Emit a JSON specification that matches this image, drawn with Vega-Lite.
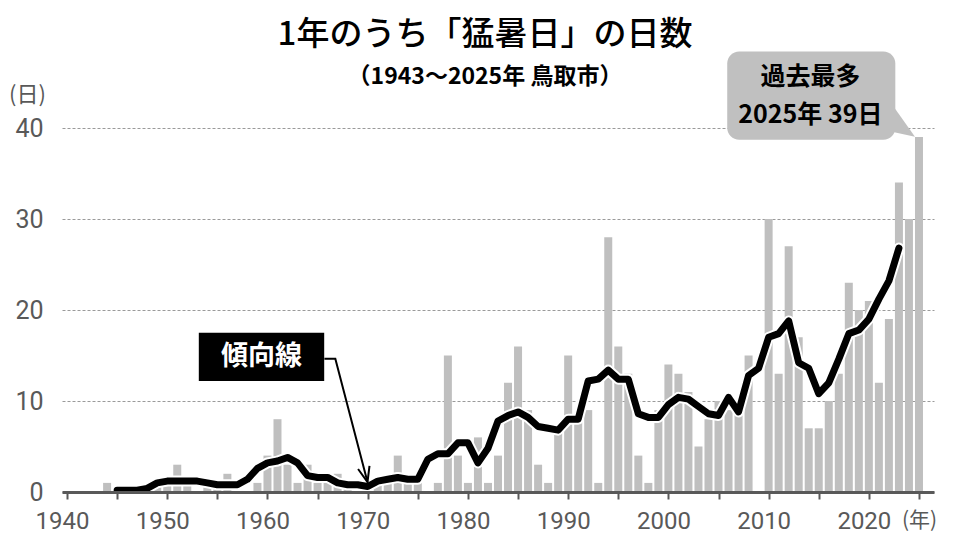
{
  "$schema": "https://vega.github.io/schema/vega-lite/v6.json",
  "autosize": {"type": "none"},
  "width": 872,
  "height": 364,
  "padding": {"left": 62, "top": 128, "right": 39, "bottom": 55},
  "background": "#ffffff",
  "config": {"view": {"stroke": null}, "font": "Noto Sans CJK JP"},
  "title": {
    "text": "1年のうち「猛暑日」の日数",
    "subtitle": "（1943～2025年 鳥取市）",
    "font": "Noto Sans CJK JP",
    "fontSize": 33,
    "fontWeight": 500,
    "color": "#000000",
    "subtitleFont": "Noto Sans CJK JP",
    "subtitleFontSize": 23,
    "subtitleFontWeight": "bold",
    "subtitleColor": "#000000",
    "subtitlePadding": 14,
    "anchor": "middle",
    "frame": "group",
    "dx": -13,
    "offset": -37
  },
  "datasets": {
    "days": [
      {"year": 1943, "days": 0}, {"year": 1944, "days": 1}, {"year": 1945, "days": 0}, {"year": 1946, "days": 0},
      {"year": 1947, "days": 0}, {"year": 1948, "days": 0}, {"year": 1949, "days": 1}, {"year": 1950, "days": 1},
      {"year": 1951, "days": 3}, {"year": 1952, "days": 1}, {"year": 1953, "days": 0}, {"year": 1954, "days": 1},
      {"year": 1955, "days": 1}, {"year": 1956, "days": 2}, {"year": 1957, "days": 0}, {"year": 1958, "days": 0},
      {"year": 1959, "days": 1}, {"year": 1960, "days": 4}, {"year": 1961, "days": 8}, {"year": 1962, "days": 3},
      {"year": 1963, "days": 1}, {"year": 1964, "days": 3}, {"year": 1965, "days": 1}, {"year": 1966, "days": 1},
      {"year": 1967, "days": 2}, {"year": 1968, "days": 1}, {"year": 1969, "days": 0}, {"year": 1970, "days": 0},
      {"year": 1971, "days": 1}, {"year": 1972, "days": 1}, {"year": 1973, "days": 4}, {"year": 1974, "days": 1},
      {"year": 1975, "days": 1}, {"year": 1976, "days": 0}, {"year": 1977, "days": 1}, {"year": 1978, "days": 15},
      {"year": 1979, "days": 4}, {"year": 1980, "days": 1}, {"year": 1981, "days": 6}, {"year": 1982, "days": 1},
      {"year": 1983, "days": 4}, {"year": 1984, "days": 12}, {"year": 1985, "days": 16}, {"year": 1986, "days": 9},
      {"year": 1987, "days": 3}, {"year": 1988, "days": 1}, {"year": 1989, "days": 7}, {"year": 1990, "days": 15},
      {"year": 1991, "days": 8}, {"year": 1992, "days": 9}, {"year": 1993, "days": 1}, {"year": 1994, "days": 28},
      {"year": 1995, "days": 16}, {"year": 1996, "days": 13}, {"year": 1997, "days": 4}, {"year": 1998, "days": 1},
      {"year": 1999, "days": 9}, {"year": 2000, "days": 14}, {"year": 2001, "days": 13}, {"year": 2002, "days": 11},
      {"year": 2003, "days": 5}, {"year": 2004, "days": 8}, {"year": 2005, "days": 10}, {"year": 2006, "days": 9},
      {"year": 2007, "days": 10}, {"year": 2008, "days": 15}, {"year": 2009, "days": 0}, {"year": 2010, "days": 30},
      {"year": 2011, "days": 13}, {"year": 2012, "days": 27}, {"year": 2013, "days": 17}, {"year": 2014, "days": 7},
      {"year": 2015, "days": 7}, {"year": 2016, "days": 10}, {"year": 2017, "days": 13}, {"year": 2018, "days": 23},
      {"year": 2019, "days": 20}, {"year": 2020, "days": 21}, {"year": 2021, "days": 12}, {"year": 2022, "days": 19},
      {"year": 2023, "days": 34}, {"year": 2024, "days": 30}, {"year": 2025, "days": 39}
    ],
    "trend": [
      {"year": 1945, "avg": 0.2}, {"year": 1946, "avg": 0.2}, {"year": 1947, "avg": 0.2}, {"year": 1948, "avg": 0.4},
      {"year": 1949, "avg": 1.0}, {"year": 1950, "avg": 1.2}, {"year": 1951, "avg": 1.2}, {"year": 1952, "avg": 1.2},
      {"year": 1953, "avg": 1.2}, {"year": 1954, "avg": 1.0}, {"year": 1955, "avg": 0.8}, {"year": 1956, "avg": 0.8},
      {"year": 1957, "avg": 0.8}, {"year": 1958, "avg": 1.4}, {"year": 1959, "avg": 2.6}, {"year": 1960, "avg": 3.2},
      {"year": 1961, "avg": 3.4}, {"year": 1962, "avg": 3.8}, {"year": 1963, "avg": 3.2}, {"year": 1964, "avg": 1.8},
      {"year": 1965, "avg": 1.6}, {"year": 1966, "avg": 1.6}, {"year": 1967, "avg": 1.0}, {"year": 1968, "avg": 0.8},
      {"year": 1969, "avg": 0.8}, {"year": 1970, "avg": 0.6}, {"year": 1971, "avg": 1.2}, {"year": 1972, "avg": 1.4},
      {"year": 1973, "avg": 1.6}, {"year": 1974, "avg": 1.4}, {"year": 1975, "avg": 1.4}, {"year": 1976, "avg": 3.6},
      {"year": 1977, "avg": 4.2}, {"year": 1978, "avg": 4.2}, {"year": 1979, "avg": 5.4}, {"year": 1980, "avg": 5.4},
      {"year": 1981, "avg": 3.2}, {"year": 1982, "avg": 4.8}, {"year": 1983, "avg": 7.8}, {"year": 1984, "avg": 8.4},
      {"year": 1985, "avg": 8.8}, {"year": 1986, "avg": 8.2}, {"year": 1987, "avg": 7.2}, {"year": 1988, "avg": 7.0},
      {"year": 1989, "avg": 6.8}, {"year": 1990, "avg": 8.0}, {"year": 1991, "avg": 8.0}, {"year": 1992, "avg": 12.2},
      {"year": 1993, "avg": 12.4}, {"year": 1994, "avg": 13.4}, {"year": 1995, "avg": 12.4}, {"year": 1996, "avg": 12.4},
      {"year": 1997, "avg": 8.6}, {"year": 1998, "avg": 8.2}, {"year": 1999, "avg": 8.2}, {"year": 2000, "avg": 9.6},
      {"year": 2001, "avg": 10.4}, {"year": 2002, "avg": 10.2}, {"year": 2003, "avg": 9.4}, {"year": 2004, "avg": 8.6},
      {"year": 2005, "avg": 8.4}, {"year": 2006, "avg": 10.4}, {"year": 2007, "avg": 8.8}, {"year": 2008, "avg": 12.8},
      {"year": 2009, "avg": 13.6}, {"year": 2010, "avg": 17.0}, {"year": 2011, "avg": 17.4}, {"year": 2012, "avg": 18.8},
      {"year": 2013, "avg": 14.2}, {"year": 2014, "avg": 13.6}, {"year": 2015, "avg": 10.8}, {"year": 2016, "avg": 12.0},
      {"year": 2017, "avg": 14.6}, {"year": 2018, "avg": 17.4}, {"year": 2019, "avg": 17.8}, {"year": 2020, "avg": 19.0},
      {"year": 2021, "avg": 21.2}, {"year": 2022, "avg": 23.2}, {"year": 2023, "avg": 26.8}
    ],
    "arrow": [
      {"seg": "shaft", "ord": 1, "x": 1965.68, "y": 14.63},
      {"seg": "shaft", "ord": 2, "x": 1966.77, "y": 14.63},
      {"seg": "shaft", "ord": 3, "x": 1969.98, "y": 1.1},
      {"seg": "head", "ord": 1, "x": 1969.04, "y": 2.53},
      {"seg": "head", "ord": 2, "x": 1969.98, "y": 1.1},
      {"seg": "head", "ord": 3, "x": 1970.18, "y": 2.86}
    ],
    "trendLabel": [
      {"x": 1953.15, "x2": 1965.66, "y": 17.49, "y2": 12.21, "lx": 1959.4, "ly": 14.85, "text": "傾向線"}
    ],
    "record": [
      {"x": 2005.87, "x2": 2022.64, "y": 48.4, "y2": 38.72}
    ],
    "recordPointer": [
      {"x": 2022.3, "y": 42.6, "y2": 39.6},
      {"x": 2024.6, "y": 39.05, "y2": 39.05}
    ],
    "recordText": [
      {"x": 2014.17, "y": 45.6, "text": "過去最多"},
      {"x": 2014.17, "y": 41.47, "text": "2025年 39日"}
    ]
  },
  "layer": [
    {
      "data": {"name": "days"},
      "mark": {"type": "bar", "size": 8, "color": "#bfbfbf"},
      "encoding": {
        "x": {
          "field": "year",
          "type": "quantitative",
          "scale": {"domain": [1940, 2026], "nice": false, "zero": false},
          "axis": {
            "title": null,
            "values": [1940, 1945, 1950, 1955, 1960, 1965, 1970, 1975, 1980, 1985, 1990, 1995, 2000, 2005, 2010, 2015, 2020, 2025],
            "format": "d",
            "labelExpr": "datum.value == 2025 ? '(年)' : (datum.value % 10 == 0 ? datum.label : '')",
            "grid": false,
            "domainColor": "#595959",
            "domainWidth": 3,
            "tickColor": "#595959",
            "tickWidth": 2,
            "tickSize": 7,
            "labelFont": {"condition": {"test": "datum.value == 2025", "value": "Noto Sans CJK JP"}, "value": "Roboto"},
            "labelFontSize": {"condition": {"test": "datum.value == 2025", "value": 21}, "value": 24},
            "labelOffset": {"condition": {"test": "datum.value == 2025", "value": 0}, "value": -5},
            "labelColor": "#595959",
            "labelPadding": 10,
            "labelFlush": false,
            "labelOverlap": false,
            "zindex": 1
          }
        },
        "y": {
          "field": "days",
          "type": "quantitative",
          "scale": {"domain": [0, 40], "nice": false},
          "axis": {
            "title": "(日)",
            "titleFont": "Noto Sans CJK JP",
            "titleFontSize": 22,
            "titleFontWeight": "normal",
            "titleColor": "#595959",
            "titleAngle": 0,
            "titleAlign": "center",
            "titleBaseline": "middle",
            "titleX": -35,
            "titleY": -34,
            "values": [0, 10, 20, 30, 40],
            "domain": false,
            "ticks": false,
            "grid": true,
            "gridColor": "#9a9a9a",
            "gridDash": [3, 2],
            "gridWidth": 1,
            "labelFont": "Roboto",
            "labelFontSize": 25,
            "labelColor": "#595959",
            "labelPadding": 19
          }
        }
      }
    },
    {
      "data": {"name": "trend"},
      "mark": {"type": "line", "color": "#ffffff", "strokeWidth": 11, "strokeCap": "round", "strokeJoin": "round"},
      "encoding": {
        "x": {"field": "year", "type": "quantitative"},
        "y": {"field": "avg", "type": "quantitative"}
      }
    },
    {
      "data": {"name": "trend"},
      "mark": {"type": "line", "color": "#000000", "strokeWidth": 7, "strokeCap": "round", "strokeJoin": "round"},
      "encoding": {
        "x": {"field": "year", "type": "quantitative"},
        "y": {"field": "avg", "type": "quantitative"}
      }
    },
    {
      "data": {"name": "arrow"},
      "mark": {"type": "line", "color": "#000000", "strokeWidth": 2},
      "encoding": {
        "x": {"field": "x", "type": "quantitative"},
        "y": {"field": "y", "type": "quantitative"},
        "detail": {"field": "seg"},
        "order": {"field": "ord"}
      }
    },
    {
      "data": {"name": "trendLabel"},
      "mark": {"type": "rect", "color": "#000000"},
      "encoding": {
        "x": {"field": "x", "type": "quantitative"},
        "x2": {"field": "x2"},
        "y": {"field": "y", "type": "quantitative"},
        "y2": {"field": "y2"}
      }
    },
    {
      "data": {"name": "trendLabel"},
      "mark": {"type": "text", "color": "#ffffff", "font": "Noto Sans CJK JP", "fontSize": 27, "fontWeight": "bold", "align": "center", "baseline": "middle"},
      "encoding": {
        "x": {"field": "lx", "type": "quantitative"},
        "y": {"field": "ly", "type": "quantitative"},
        "text": {"field": "text"}
      }
    },
    {
      "data": {"name": "record"},
      "mark": {"type": "rect", "color": "#c0c0c0", "cornerRadius": 12},
      "encoding": {
        "x": {"field": "x", "type": "quantitative"},
        "x2": {"field": "x2"},
        "y": {"field": "y", "type": "quantitative"},
        "y2": {"field": "y2"}
      }
    },
    {
      "data": {"name": "recordPointer"},
      "mark": {"type": "area", "color": "#c0c0c0"},
      "encoding": {
        "x": {"field": "x", "type": "quantitative"},
        "y": {"field": "y", "type": "quantitative"},
        "y2": {"field": "y2"}
      }
    },
    {
      "data": {"name": "recordText"},
      "mark": {"type": "text", "color": "#000000", "font": "Noto Sans CJK JP", "fontSize": 25, "fontWeight": "bold", "align": "center", "baseline": "middle"},
      "encoding": {
        "x": {"field": "x", "type": "quantitative"},
        "y": {"field": "y", "type": "quantitative"},
        "text": {"field": "text"}
      }
    }
  ]
}
